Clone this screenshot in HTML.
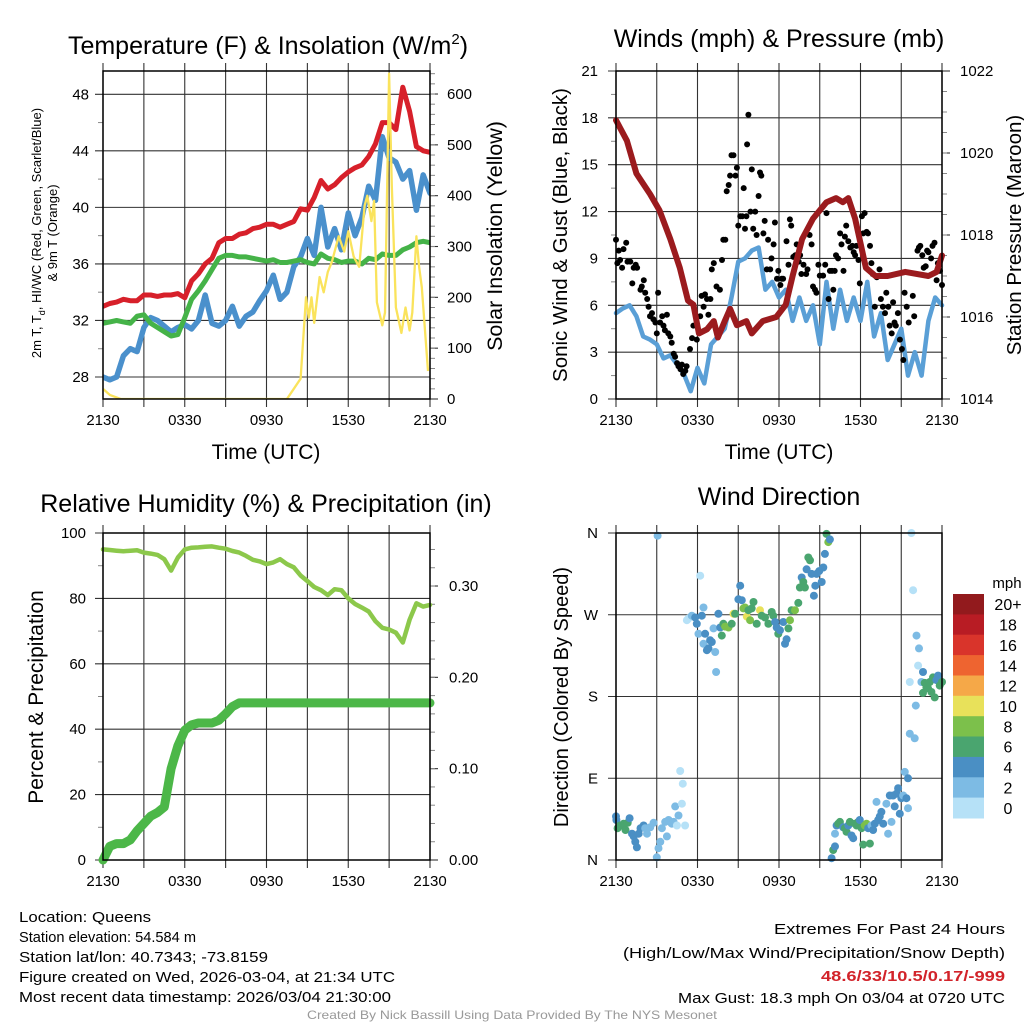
<!DOCTYPE html>
<html><head><meta charset="utf-8">
<style>
html,body{margin:0;padding:0;background:#fff;}
svg{display:block;font-family:"Liberation Sans",sans-serif;}
</style></head>
<body>
<svg id="chart" width="1024" height="1024" viewBox="0 0 1024 1024" xmlns="http://www.w3.org/2000/svg">
<rect x="0" y="0" width="1024" height="1024" fill="#fff"/>
<g id="static-text">
<text x="268" y="54" font-size="25" text-anchor="middle">Temperature (F) &amp; Insolation (W/m<tspan dy="-10" font-size="15">2</tspan><tspan dy="10">)</tspan></text>
<text x="779" y="47" font-size="25" text-anchor="middle">Winds (mph) &amp; Pressure (mb)</text>
<text x="266" y="512" font-size="25" text-anchor="middle">Relative Humidity (%) &amp; Precipitation (in)</text>
<text x="779" y="505" font-size="25" text-anchor="middle">Wind Direction</text>
<text x="266" y="459" font-size="21" text-anchor="middle">Time (UTC)</text>
<text x="779" y="459" font-size="21" text-anchor="middle">Time (UTC)</text>
<text transform="translate(41,233) rotate(-90)" font-size="13" text-anchor="middle">2m T, T<tspan dy="4" font-size="9">d</tspan><tspan dy="-4">, HI/WC (Red, Green, Scarlet/Blue)</tspan></text>
<text transform="translate(57,233) rotate(-90)" font-size="13" text-anchor="middle">&amp; 9m T (Orange)</text>
<text transform="translate(502,236) rotate(-90)" font-size="21.5" text-anchor="middle">Solar Insolation (Yellow)</text>
<text transform="translate(567,235) rotate(-90)" font-size="20.5" text-anchor="middle">Sonic Wind &amp; Gust (Blue, Black)</text>
<text transform="translate(1021,235) rotate(-90)" font-size="20.5" text-anchor="middle">Station Pressure (Maroon)</text>
<text transform="translate(43,697) rotate(-90)" font-size="21" text-anchor="middle">Percent &amp; Precipitation</text>
<text transform="translate(568,697) rotate(-90)" font-size="20" text-anchor="middle">Direction (Colored By Speed)</text>
<g font-family="'Liberation Sans',sans-serif" font-size="15">
<text x="19" y="922" textLength="132" lengthAdjust="spacingAndGlyphs">Location: Queens</text>
<text x="19" y="942" textLength="177" lengthAdjust="spacingAndGlyphs">Station elevation: 54.584 m</text>
<text x="19" y="962" textLength="249" lengthAdjust="spacingAndGlyphs">Station lat/lon: 40.7343; -73.8159</text>
<text x="19" y="982" textLength="376" lengthAdjust="spacingAndGlyphs">Figure created on Wed, 2026-03-04, at 21:34 UTC</text>
<text x="19" y="1002" textLength="372" lengthAdjust="spacingAndGlyphs">Most recent data timestamp: 2026/03/04 21:30:00</text>
<text x="1005" y="934" text-anchor="end" textLength="231" lengthAdjust="spacingAndGlyphs">Extremes For Past 24 Hours</text>
<text x="1005" y="958" text-anchor="end" textLength="382" lengthAdjust="spacingAndGlyphs">(High/Low/Max Wind/Precipitation/Snow Depth)</text>
<text x="1005" y="981" text-anchor="end" font-weight="bold" fill="#d2232a" textLength="184" lengthAdjust="spacingAndGlyphs">48.6/33/10.5/0.17/-999</text>
<text x="1005" y="1003" text-anchor="end" textLength="327" lengthAdjust="spacingAndGlyphs">Max Gust: 18.3 mph On 03/04 at 0720 UTC</text>
<text x="512" y="1019" text-anchor="middle" font-size="12" fill="#999" textLength="410" lengthAdjust="spacingAndGlyphs">Created By Nick Bassill Using Data Provided By The NYS Mesonet</text>
</g>
</g>
</svg>
<script>
// ---------- DATA ----------
const timeLabels = ['2130','0330','0930','1530','2130'];
const halfHours = [0,0.5,1,1.5,2,2.5,3,3.5,4,4.5,5,5.5,6,6.5,7,7.5,8,8.5,9,9.5,10,10.5,11,11.5,12,12.5,13,13.5,14,14.5,15,15.5,16,16.5,17,17.5,18,18.5,19,19.5,20,20.5,21,21.5,22,22.5,23,23.5,24];
const tempF = [33.0,33.2,33.3,33.5,33.4,33.4,33.8,33.8,33.7,33.8,33.8,33.9,33.6,34.8,35.3,36.0,36.4,37.5,37.8,37.8,38.1,38.2,38.5,38.6,38.8,38.8,38.6,38.8,39.0,39.9,39.8,40.7,41.9,41.3,41.6,42.1,42.5,42.8,43.0,43.6,44.5,46.0,46.0,45.5,48.5,46.8,44.3,44.0,43.9];
const dewpointF = [31.8,31.9,32.0,31.9,31.8,32.3,32.4,31.8,31.5,31.2,30.9,31.0,32.2,33.5,34.1,34.8,35.6,36.4,36.6,36.6,36.5,36.5,36.4,36.3,36.2,36.3,36.1,36.1,36.2,36.3,36.1,36.0,36.7,36.4,36.3,36.1,36.2,36.2,36.0,36.4,36.3,36.7,36.6,36.6,37.0,37.2,37.5,37.6,37.5];
const windChillF = [28.0,27.8,28.0,29.5,30.0,29.8,31.5,32.2,32.0,31.6,31.2,31.5,31.7,31.4,32.0,33.8,31.8,31.6,32.0,33.0,31.6,32.3,32.6,33.4,34.1,35.2,33.5,34.0,35.8,36.5,37.8,36.6,40.0,37.2,38.5,37.0,39.6,38.0,39.3,41.5,40.5,45.0,43.5,43.2,42.0,42.6,39.8,42.3,41.0];
const solarHours = [0,0.5,1.3,13.5,14.0,14.5,14.9,15.1,15.3,15.5,15.9,16.2,16.5,16.8,17.3,17.7,18.0,18.4,18.8,19.2,19.4,19.7,19.9,20.1,20.5,20.7,21.0,21.2,21.5,21.9,22.2,22.5,22.7,23.0,23.2,23.4,23.85];
const solarWm2 = [20,8,0,0,20,40,200,160,200,150,240,210,250,270,320,290,330,280,260,380,400,350,390,190,145,170,640,420,180,130,180,135,170,320,260,220,55];
const windMph = [5.5,5.8,6.0,5.3,4.0,3.8,3.5,2.6,2.8,2.2,1.6,0.5,2.0,1.0,3.5,4.0,4.5,6.5,8.8,9.0,9.5,9.7,7.0,7.5,6.5,7.0,5.0,6.5,5.0,6.0,3.5,7.5,4.5,7.0,5.0,6.5,5.0,7.5,4.0,5.5,2.5,3.5,4.5,1.5,3.0,1.5,5.0,6.5,6.0];
const pressureHours = [0,0.8,1.5,2.5,3.2,4.0,4.7,5.3,5.7,6.1,6.7,7.2,7.5,8.0,8.4,8.9,9.6,10.0,10.8,11.8,12.5,13.0,13.7,14.5,15.5,16.2,16.7,17.1,17.6,18.0,18.4,19.1,20.0,21.3,23.0,23.6,24];
const pressureMb = [1020.8,1020.3,1019.5,1019.0,1018.6,1017.9,1017.2,1016.4,1016.3,1015.6,1015.7,1015.9,1015.5,1015.9,1016.2,1015.8,1015.9,1015.6,1015.9,1016.0,1016.3,1017.0,1017.9,1018.4,1018.8,1018.9,1018.8,1018.9,1018.4,1017.8,1017.2,1017.0,1017.0,1017.1,1017.0,1017.1,1017.5];
const gustHours = [0.0,0.1,0.2,0.3,0.45,0.55,0.75,0.85,1.05,1.2,1.3,1.45,1.55,1.8,1.9,2.05,2.15,2.3,2.4,2.5,2.65,2.75,2.9,3.0,3.1,3.25,3.4,3.5,3.6,3.75,3.85,4.0,4.1,4.25,4.35,4.5,4.6,4.75,4.85,4.95,5.1,5.2,5.45,5.6,5.7,5.95,6.2,6.3,6.45,6.55,6.7,6.8,6.95,7.05,7.2,7.4,7.65,7.8,7.9,8.05,8.15,8.3,8.4,8.5,8.65,8.8,8.9,9.0,9.15,9.3,9.4,9.5,9.6,9.65,9.75,9.9,10.0,10.1,10.25,10.35,10.5,10.6,10.7,10.85,10.95,11.1,11.2,11.35,11.45,11.6,11.7,11.85,11.95,12.1,12.2,12.3,12.55,12.7,12.8,12.9,13.05,13.2,13.3,13.45,13.55,13.65,13.8,14.0,14.1,14.25,14.4,14.5,14.65,14.75,14.9,15.0,15.25,15.4,15.5,15.65,15.75,15.9,16.0,16.1,16.2,16.35,16.5,16.6,16.75,16.85,16.95,17.1,17.25,17.4,17.5,17.6,17.7,17.85,17.95,18.1,18.2,18.3,18.45,18.55,18.7,18.8,18.9,19.05,19.2,19.4,19.5,19.65,19.8,19.9,20.05,20.15,20.3,20.4,20.5,20.6,20.75,20.9,21.05,21.15,21.25,21.4,21.55,21.85,21.95,22.2,22.3,22.4,22.55,22.65,22.8,22.9,23.0,23.2,23.3,23.45,23.6,23.7,23.85,24.0];
const gustMph = [10.2,8.7,9.5,8.9,8.4,9.6,10.0,8.8,8.8,7.4,8.4,8.6,8.4,7.0,7.2,7.6,6.8,6.4,5.9,5.3,5.5,5.1,4.9,4.2,6.8,4.9,5.3,4.7,4.4,5.4,4.2,4.0,3.6,2.9,2.7,2.3,2.1,1.9,2.2,1.6,1.8,2.1,3.2,3.9,4.7,3.8,5.3,6.6,5.9,6.7,6.4,5.4,6.4,8.3,8.7,7.2,7.0,8.9,10.2,10.2,13.3,13.7,14.3,15.6,15.6,14.3,14.8,11.1,11.7,11.7,13.5,10.9,11.7,16.3,18.2,12.0,14.7,10.9,12.0,10.5,13.0,14.5,14.3,10.6,11.4,8.3,10.2,8.3,9.0,9.9,11.3,7.7,8.2,7.3,7.7,7.7,10.1,8.6,11.5,11.1,9.1,9.2,9.9,8.8,9.2,8.0,8.6,8.0,8.3,10.5,9.9,7.2,7.0,6.8,8.6,7.9,7.9,8.6,11.9,6.4,8.2,8.2,7.0,8.2,9.2,9.0,10.6,9.9,8.2,10.4,11.1,10.1,9.7,9.8,9.4,9.2,9.8,8.9,7.4,11.7,10.6,11.9,10.7,10.6,9.8,8.7,8.0,5.9,7.8,8.3,6.4,5.9,5.5,6.8,5.9,4.7,4.2,6.2,4.9,4.7,5.5,3.8,3.2,2.5,6.8,5.9,4.9,6.6,5.3,9.5,9.7,9.8,9.2,8.4,8.5,9.5,9.4,9.0,9.8,10.0,7.6,8.7,8.2,7.3];
const rhPercent = [95,94.8,94.6,94.4,94.6,94.7,94.0,93.7,93.3,92.0,88.5,92.5,95.0,95.5,95.6,95.8,95.9,95.5,95.2,94.5,94.0,93.0,91.8,91.3,90.5,91.0,92.0,90.5,89.5,87,85.3,83.5,82.5,81.0,82.8,82.5,80,78.3,77.2,76,73,71,70.5,69.5,66.5,73.5,78.5,77.5,78];
const precipIn = [0.0,0.015,0.018,0.018,0.022,0.032,0.04,0.048,0.052,0.058,0.10,0.125,0.142,0.148,0.15,0.15,0.15,0.153,0.16,0.168,0.172,0.172,0.172,0.172,0.172,0.172,0.172,0.172,0.172,0.172,0.172,0.172,0.172,0.172,0.172,0.172,0.172,0.172,0.172,0.172,0.172,0.172,0.172,0.172,0.172,0.172,0.172,0.172,0.172];
const dirHours = [0,0.03,0.12,0.3,0.56,0.7,0.86,1.0,1.18,1.3,1.42,1.54,1.67,1.8,2.03,2.15,2.28,2.52,2.77,3.0,3.06,3.13,3.26,3.38,3.62,3.75,3.87,4.11,4.24,4.36,4.48,4.6,4.73,4.85,4.92,5.09,
5.22,5.34,5.58,5.83,5.95,6.07,6.2,6.32,6.44,6.44,6.56,6.69,6.81,6.93,7.05,7.18,7.3,7.37,7.54,7.67,7.79,7.91,8.03,8.28,8.52,8.65,8.77,9.01,9.14,9.26,9.38,9.5,9.63,9.75,9.87,9.99,10.12,10.36,10.6,10.73,10.97,11.22,11.46,11.58,11.71,11.83,11.95,12.07,12.32,12.44,12.56,12.69,12.81,12.93,13.18,13.42,13.54,13.67,13.79,13.91,14.03,14.16,14.28,14.4,14.57,14.67,14.77,14.96,15.14,15.26,15.38,15.5,15.63,15.75,
15.87,15.99,16.12,16.12,16.24,16.36,16.48,16.73,16.85,16.97,17.1,17.22,17.34,17.46,17.59,17.71,17.83,17.95,18.08,18.2,18.32,18.44,18.56,18.69,18.81,18.93,19.05,19.18,19.3,19.42,19.54,19.67,19.91,20.03,20.16,20.28,20.4,20.52,20.65,20.77,20.89,21.01,21.14,21.26,21.38,21.5,21.5,21.63,21.63,21.75,21.87,21.99,22.07,22.12,22.24,22.31,22.48,22.6,22.6,22.73,22.85,22.97,23.1,23.22,23.34,23.46,23.59,23.71,23.83,24];
const dirDeg = [48,44,35,38,40,33,41,46,29,26,20,14,29,35,38,35,29,36,41,3,357,13,20,35,42,26,44,40,42,59,38,49,98,62,84,38,
264,266,269,267,260,249,313,269,278,238,249,231,233,242,240,255,229,207,271,256,247,260,257,256,260,271,271,287,302,286,277,278,268,275,264,277,284,260,275,269,267,260,273,269,262,256,249,253,262,238,243,255,264,275,275,283,300,311,306,300,320,333,330,315,291,302,315,318,306,322,337,359,350,353,
2,11,15,29,38,40,42,36,35,31,38,42,27,24,40,38,42,44,35,17,38,40,35,18,38,33,40,64,44,48,53,40,62,29,71,42,71,59,73,79,51,68,71,97,68,90,57,139,196,360,297,134,170,247,214,233,196,207,184,195,190,189,196,185,201,179,198,203,192,196];
const dirSpeed = [5,5,7,7,7,7,7,5,5,5,5,5,5,5,5,3,3,3,3,3,3,3,3,3,3,3,3,3,3,3,1,3,1,1,1,1,
1,1,3,5,5,3,1,5,3,3,5,5,5,5,5,3,3,3,5,5,7,7,9,9,7,11,7,5,5,5,9,9,11,7,9,7,7,7,11,7,7,7,7,7,5,5,7,5,5,5,5,7,9,7,9,7,7,5,7,7,5,7,7,5,5,5,5,5,5,5,5,7,9,5,
5,7,5,3,5,7,7,5,7,7,5,7,5,5,7,7,7,5,7,7,9,9,5,7,3,5,5,3,5,5,5,5,3,3,5,3,5,5,5,5,5,5,3,3,5,5,3,3,1,1,1,3,3,3,1,3,3,5,7,7,7,7,7,7,7,7,5,5,7,7];
const speedBins = ['0','2','4','6','8','10','12','14','16','18','20+'];
const speedColors = ['#b6e1f7','#7dbbe4','#4a8fc4','#4aa56f','#7cc04b','#e8e15a','#f5a848','#ee6430','#d9342b','#b81c24','#921a1d'];

// ---------- HELPERS ----------
const NS='http://www.w3.org/2000/svg';
const svg=document.getElementById('chart');
function mk(tag, attrs, parent, name){
  const el=document.createElementNS(NS,tag);
  for(const k in attrs) el.setAttribute(k,attrs[k]);
  
  
  (parent||svg).appendChild(el);
  return el;
}
function txt(x,y,s,anchor,size,parent,name){
  const t=mk('text',{x:x,y:y,'text-anchor':anchor,'font-size':size},parent,name);
  t.textContent=s; return t;
}
function linePath(xs, ys, fx, fy){
  let d='';
  for(let i=0;i<xs.length;i++){ d+=(i?'L':'M')+fx(xs[i]).toFixed(1)+' '+fy(ys[i]).toFixed(1); }
  return d;
}
function panelFrame(P, name){
  const g=mk('g',{},svg,name);
  for(let h=0;h<=24;h+=3){
    const x=P.xs(h);
    mk('line',{x1:x,y1:P.top-8,x2:x,y2:P.bot+8,stroke:'#333','stroke-width':1.1},g,'x-gridline');
  }
  for(let i=0;i<timeLabels.length;i++){
    txt(P.xs(i*6),P.bot+26,timeLabels[i],'middle',15,g,'x-tick-label');
  }
  return g;
}
function leftAxis(P,g,vals,labels,minor,fy,lx){
  for(let i=0;i<vals.length;i++){
    const y=fy(vals[i]);
    mk('line',{x1:P.x0-8,y1:y,x2:P.x1,y2:y,stroke:'#333','stroke-width':1.1},g,'y-gridline');
    txt(lx,y+5,labels[i],'end',15,g,'y-tick-label');
  }
  for(const v of minor){ const y=fy(v); mk('line',{x1:P.x0-5,y1:y,x2:P.x0,y2:y,stroke:'#888','stroke-width':1},g,'y-minor-tick'); }
}
function rightAxis(P,g,vals,labels,minor,fy,lx){
  for(let i=0;i<vals.length;i++){
    const y=fy(vals[i]);
    mk('line',{x1:P.x1,y1:y,x2:P.x1+8,y2:y,stroke:'#333','stroke-width':1.1},g,'right-tick');
    txt(lx,y+5,labels[i],'start',15,g,'right-tick-label');
  }
  for(const v of minor){ const y=fy(v); mk('line',{x1:P.x1,y1:y,x2:P.x1+5,y2:y,stroke:'#888','stroke-width':1},g,'right-minor-tick'); }
}
function border(P,g){
  mk('rect',{x:P.x0,y:P.top,width:P.x1-P.x0,height:P.bot-P.top,fill:'none',stroke:'#000','stroke-width':1.5},g,'plot-border');
}
function range(a,b,s){const r=[];for(let v=a;v<=b+1e-9;v+=s)r.push(+v.toFixed(4));return r;}

// ---------- PANEL 1: Temperature ----------
const P1={x0:103,x1:430,top:71,bot:399};
P1.xs=h=>P1.x0+h*(P1.x1-P1.x0)/24;
const yT=v=>377-(v-28)*14.135;
const yS=v=>399-v*0.5083;
const g1=panelFrame(P1,'temperature-panel');
leftAxis(P1,g1,[28,32,36,40,44,48],['28','32','36','40','44','48'],[30,34,38,42,46],yT,89);
rightAxis(P1,g1,[0,100,200,300,400,500,600],['0','100','200','300','400','500','600'],range(20,640,20),yS,447);
const c1=mk('g',{'clip-path':'url(#clip1)'},g1,'temperature-series');
mk('path',{d:linePath(halfHours,windChillF,P1.xs,yT),fill:'none',stroke:'#4a90cc','stroke-width':5.5,'stroke-linejoin':'round','stroke-linecap':'round'},c1,'windchill-line');
mk('path',{d:linePath(halfHours,dewpointF,P1.xs,yT),fill:'none',stroke:'#45b348','stroke-width':5,'stroke-linejoin':'round','stroke-linecap':'round'},c1,'dewpoint-line');
mk('path',{d:linePath(halfHours,tempF,P1.xs,yT),fill:'none',stroke:'#d7202a','stroke-width':5,'stroke-linejoin':'round','stroke-linecap':'round'},c1,'temperature-line');
mk('path',{d:linePath(solarHours,solarWm2,P1.xs,yS),fill:'none',stroke:'#fae35c','stroke-width':2.3,'stroke-linejoin':'round'},c1,'insolation-line');
border(P1,g1);

// ---------- PANEL 2: Winds ----------
const P2={x0:616,x1:942,top:71,bot:399};
P2.xs=h=>P2.x0+h*(P2.x1-P2.x0)/24;
const yW=v=>399-v*(328/21);
const yP=v=>399-(v-1014)*41;
const g2=panelFrame(P2,'winds-panel');
leftAxis(P2,g2,[0,3,6,9,12,15,18,21],['0','3','6','9','12','15','18','21'],range(1.5,19.5,3),yW,598);
rightAxis(P2,g2,[1014,1016,1018,1020,1022],['1014','1016','1018','1020','1022'],range(1014.5,1021.5,0.5),yP,960);
mk('path',{d:linePath(halfHours,windMph,P2.xs,yW),fill:'none',stroke:'#5a9fd6','stroke-width':4.5,'stroke-linejoin':'round','stroke-linecap':'round'},g2,'sonic-wind-line');
const gg=mk('g',{},g2,'gust-points');
for(let i=0;i<gustHours.length;i++){
  const c=document.createElementNS(NS,'circle');
  c.setAttribute('cx',P2.xs(gustHours[i]).toFixed(1));
  c.setAttribute('cy',yW(gustMph[i]).toFixed(1));
  c.setAttribute('r',3);
  c.setAttribute('fill','#000');
  
  
  gg.appendChild(c);
}
mk('path',{d:linePath(pressureHours,pressureMb,P2.xs,yP),fill:'none',stroke:'#9b1b1e','stroke-width':6,'stroke-linejoin':'round','stroke-linecap':'round'},g2,'pressure-line');
border(P2,g2);

// ---------- PANEL 3: RH & Precip ----------
const P3={x0:103,x1:430,top:533,bot:860};
P3.xs=h=>P3.x0+h*(P3.x1-P3.x0)/24;
const yR=v=>860-v*3.27;
const yPr=v=>860-v*913.3;
const g3=panelFrame(P3,'humidity-panel');
leftAxis(P3,g3,[0,20,40,60,80,100],['0','20','40','60','80','100'],[10,30,50,70,90],yR,86);
rightAxis(P3,g3,[0,0.1,0.2,0.3],['0.00','0.10','0.20','0.30'],range(0.02,0.34,0.02),yPr,449);
mk('path',{d:linePath(halfHours,rhPercent,P3.xs,yR),fill:'none',stroke:'#8cc84b','stroke-width':4.5,'stroke-linejoin':'round','stroke-linecap':'round'},g3,'humidity-line');
mk('path',{d:linePath(halfHours,precipIn,P3.xs,yPr),fill:'none',stroke:'#4cb748','stroke-width':9,'stroke-linejoin':'round','stroke-linecap':'round'},g3,'precipitation-line');
border(P3,g3);

// ---------- PANEL 4: Wind direction ----------
const P4={x0:616,x1:942,top:533,bot:860};
P4.xs=h=>P4.x0+h*(P4.x1-P4.x0)/24;
const yD=v=>860-v*(327/360);
const g4=panelFrame(P4,'direction-panel');
leftAxis(P4,g4,[0,90,180,270,360],['N','E','S','W','N'],[],yD,598);
const dg=mk('g',{},g4,'direction-points');
function binColor(s){ let i=Math.floor(s/2); if(i>10)i=10; return speedColors[i]; }
for(let i=0;i<dirHours.length;i++){
  const c=document.createElementNS(NS,'circle');
  c.setAttribute('cx',P4.xs(dirHours[i]).toFixed(1));
  c.setAttribute('cy',yD(dirDeg[i]).toFixed(1));
  c.setAttribute('r',4);
  c.setAttribute('fill',binColor(dirSpeed[i]));
  
  
  dg.appendChild(c);
}
border(P4,g4);
// colorbar
const cb=mk('g',{},svg,'speed-colorbar');
const cbTop=594, cbH=224/speedBins.length;
for(let i=0;i<speedBins.length;i++){
  const k=speedBins.length-1-i;
  mk('rect',{x:953,y:(cbTop+i*cbH).toFixed(1),width:31,height:(cbH+0.5).toFixed(1),fill:speedColors[k]},cb,'colorbar-box');
  txt(1008,cbTop+i*cbH+cbH/2+6,speedBins[k],'middle',16,cb,'colorbar-label');
}
txt(1007,588,'mph','middle',15,cb,'colorbar-unit');

// clip for panel 1
const defs=mk('defs',{},svg,'defs');
const cp=mk('clipPath',{id:'clip1'},defs,'clip-temperature');
mk('rect',{x:P1.x0,y:P1.top,width:P1.x1-P1.x0,height:P1.bot-P1.top},cp,'clip-rect');
</script>
</body></html>
